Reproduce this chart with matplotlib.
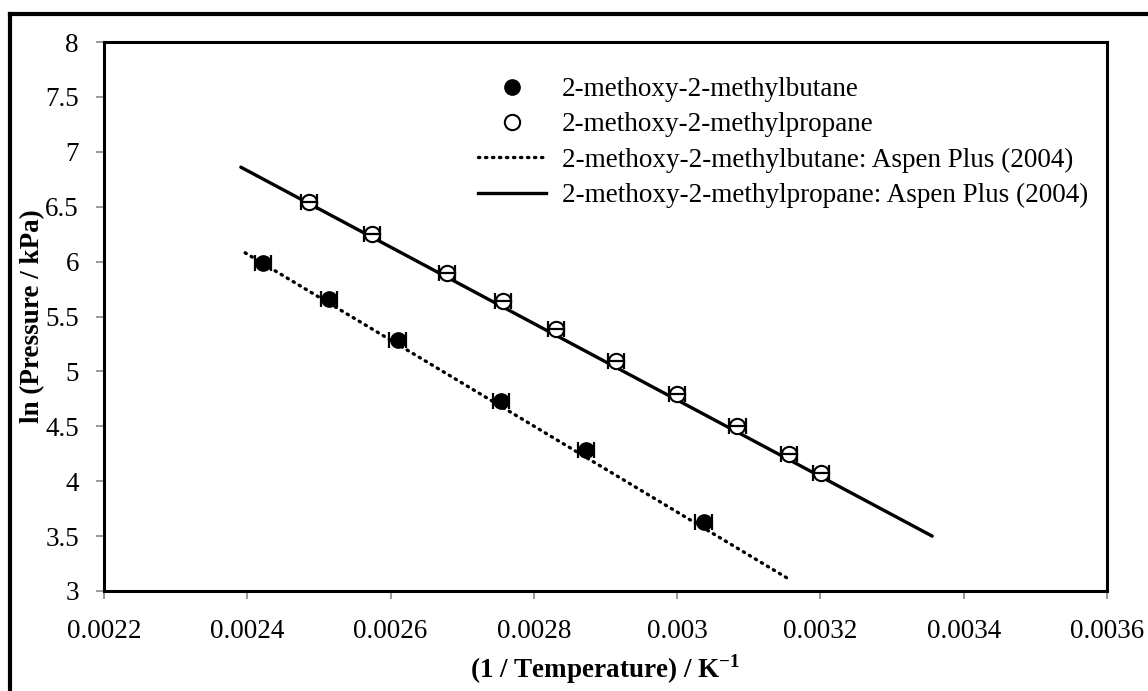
import matplotlib
matplotlib.use("Agg")
import matplotlib.pyplot as plt
from matplotlib.lines import Line2D

plt.rcParams['font.family'] = ['Liberation Serif', 'DejaVu Serif']
plt.rcParams['mathtext.fontset'] = 'custom'
plt.rcParams['mathtext.rm'] = 'Liberation Serif'
plt.rcParams['mathtext.bf'] = 'Liberation Serif:bold'

# Experimental vapour pressures
butane_x = [0.002422, 0.002514, 0.002610, 0.002754, 0.002873, 0.003037]
butane_y = [5.987, 5.660, 5.286, 4.730, 4.284, 3.628]
propane_x = [0.002486, 0.002574, 0.002679, 0.002757, 0.002831,
             0.002915, 0.003000, 0.003084, 0.003156, 0.003201]
propane_y = [6.543, 6.251, 5.896, 5.641, 5.386,
             5.095, 4.794, 4.503, 4.248, 4.075]
x_error = 0.0000115

# Aspen Plus (2004) correlation lines
aspen_butane_x = [0.002397, 0.003153]
aspen_butane_y = [6.08, 3.12]
aspen_propane_x = [0.002391, 0.003356]
aspen_propane_y = [6.86, 3.50]

labels = ['2-methoxy-2-methylbutane',
          '2-methoxy-2-methylpropane',
          '2-methoxy-2-methylbutane: Aspen Plus (2004)',
          '2-methoxy-2-methylpropane: Aspen Plus (2004)']

x_ticks = [0.0022, 0.0024, 0.0026, 0.0028, 0.003, 0.0032, 0.0034, 0.0036]
x_tick_labels = ['0.0022', '0.0024', '0.0026', '0.0028', '0.003', '0.0032', '0.0034', '0.0036']
y_ticks = [3, 3.5, 4, 4.5, 5, 5.5, 6, 6.5, 7, 7.5, 8]
y_tick_labels = ['3', '3.5', '4', '4.5', '5', '5.5', '6', '6.5', '7', '7.5', '8']

FS = 19.5
DOT = (0, (0.4, 1.7))

fig = plt.figure(figsize=(11.48, 6.91), dpi=100)
ax = fig.add_axes([104 / 1148, 1 - 591 / 691, (1107 - 104) / 1148, (591 - 42) / 691])

ax.plot(aspen_butane_x, aspen_butane_y, color='black', lw=2.4,
        linestyle=DOT, dash_capstyle='round', zorder=2)
ax.plot(aspen_propane_x, aspen_propane_y, color='black', lw=2.4,
        solid_capstyle='round', zorder=2)

h1, = ax.plot(butane_x, butane_y, 'o', ms=11, mfc='black', mec='black', zorder=3)
h2, = ax.plot(propane_x, propane_y, 'o', ms=11, mfc='white', mec='black', mew=1.5, zorder=3)

ax.errorbar(butane_x, butane_y, xerr=x_error, fmt='none', ecolor='black',
            elinewidth=1.6, capsize=5.5, capthick=1.6, zorder=4)
ax.errorbar(propane_x, propane_y, xerr=x_error, fmt='none', ecolor='black',
            elinewidth=1.6, capsize=5.5, capthick=1.6, zorder=4)

ax.set_xlim(0.0022, 0.0036)
ax.set_ylim(3, 8)
ax.set_xticks(x_ticks)
ax.set_xticklabels(x_tick_labels)
ax.set_yticks(y_ticks)
ax.set_yticklabels(y_tick_labels)
ax.tick_params(axis='both', direction='out', length=6, width=1.2, color='#888888',
               labelsize=FS)
ax.tick_params(axis='x', pad=14)
ax.tick_params(axis='y', pad=12)

for s in ax.spines.values():
    s.set_color('black')
    s.set_linewidth(2.2)

ax.set_xlabel('(1 / Temperature) / K$^{\\mathbf{-1}}$', fontsize=FS,
              fontweight='bold', labelpad=6)
ax.set_ylabel('ln (Pressure / kPa)', fontsize=FS, fontweight='bold', labelpad=0)

handles = [h1, h2,
           Line2D([], [], color='black', lw=2.4, linestyle=DOT, dash_capstyle='round'),
           Line2D([], [], color='black', lw=2.4)]
ax.legend(handles, labels, loc='upper left',
          bbox_to_anchor=((478 - 104) / 1003, (591 - 77) / 549),
          frameon=False, fontsize=FS, handlelength=2.5, handletextpad=0.6,
          labelspacing=0.38, borderpad=0, borderaxespad=0)

# outer chart frame
fig.add_artist(Line2D([10 / 1148, 10 / 1148], [0, 1 - 14 / 691], color='black', lw=3,
                      transform=fig.transFigure, solid_capstyle='projecting'))
fig.add_artist(Line2D([10 / 1148, 1], [1 - 14 / 691, 1 - 14 / 691], color='black', lw=3,
                      transform=fig.transFigure, solid_capstyle='projecting'))

fig.savefig('out.png', dpi=100)
